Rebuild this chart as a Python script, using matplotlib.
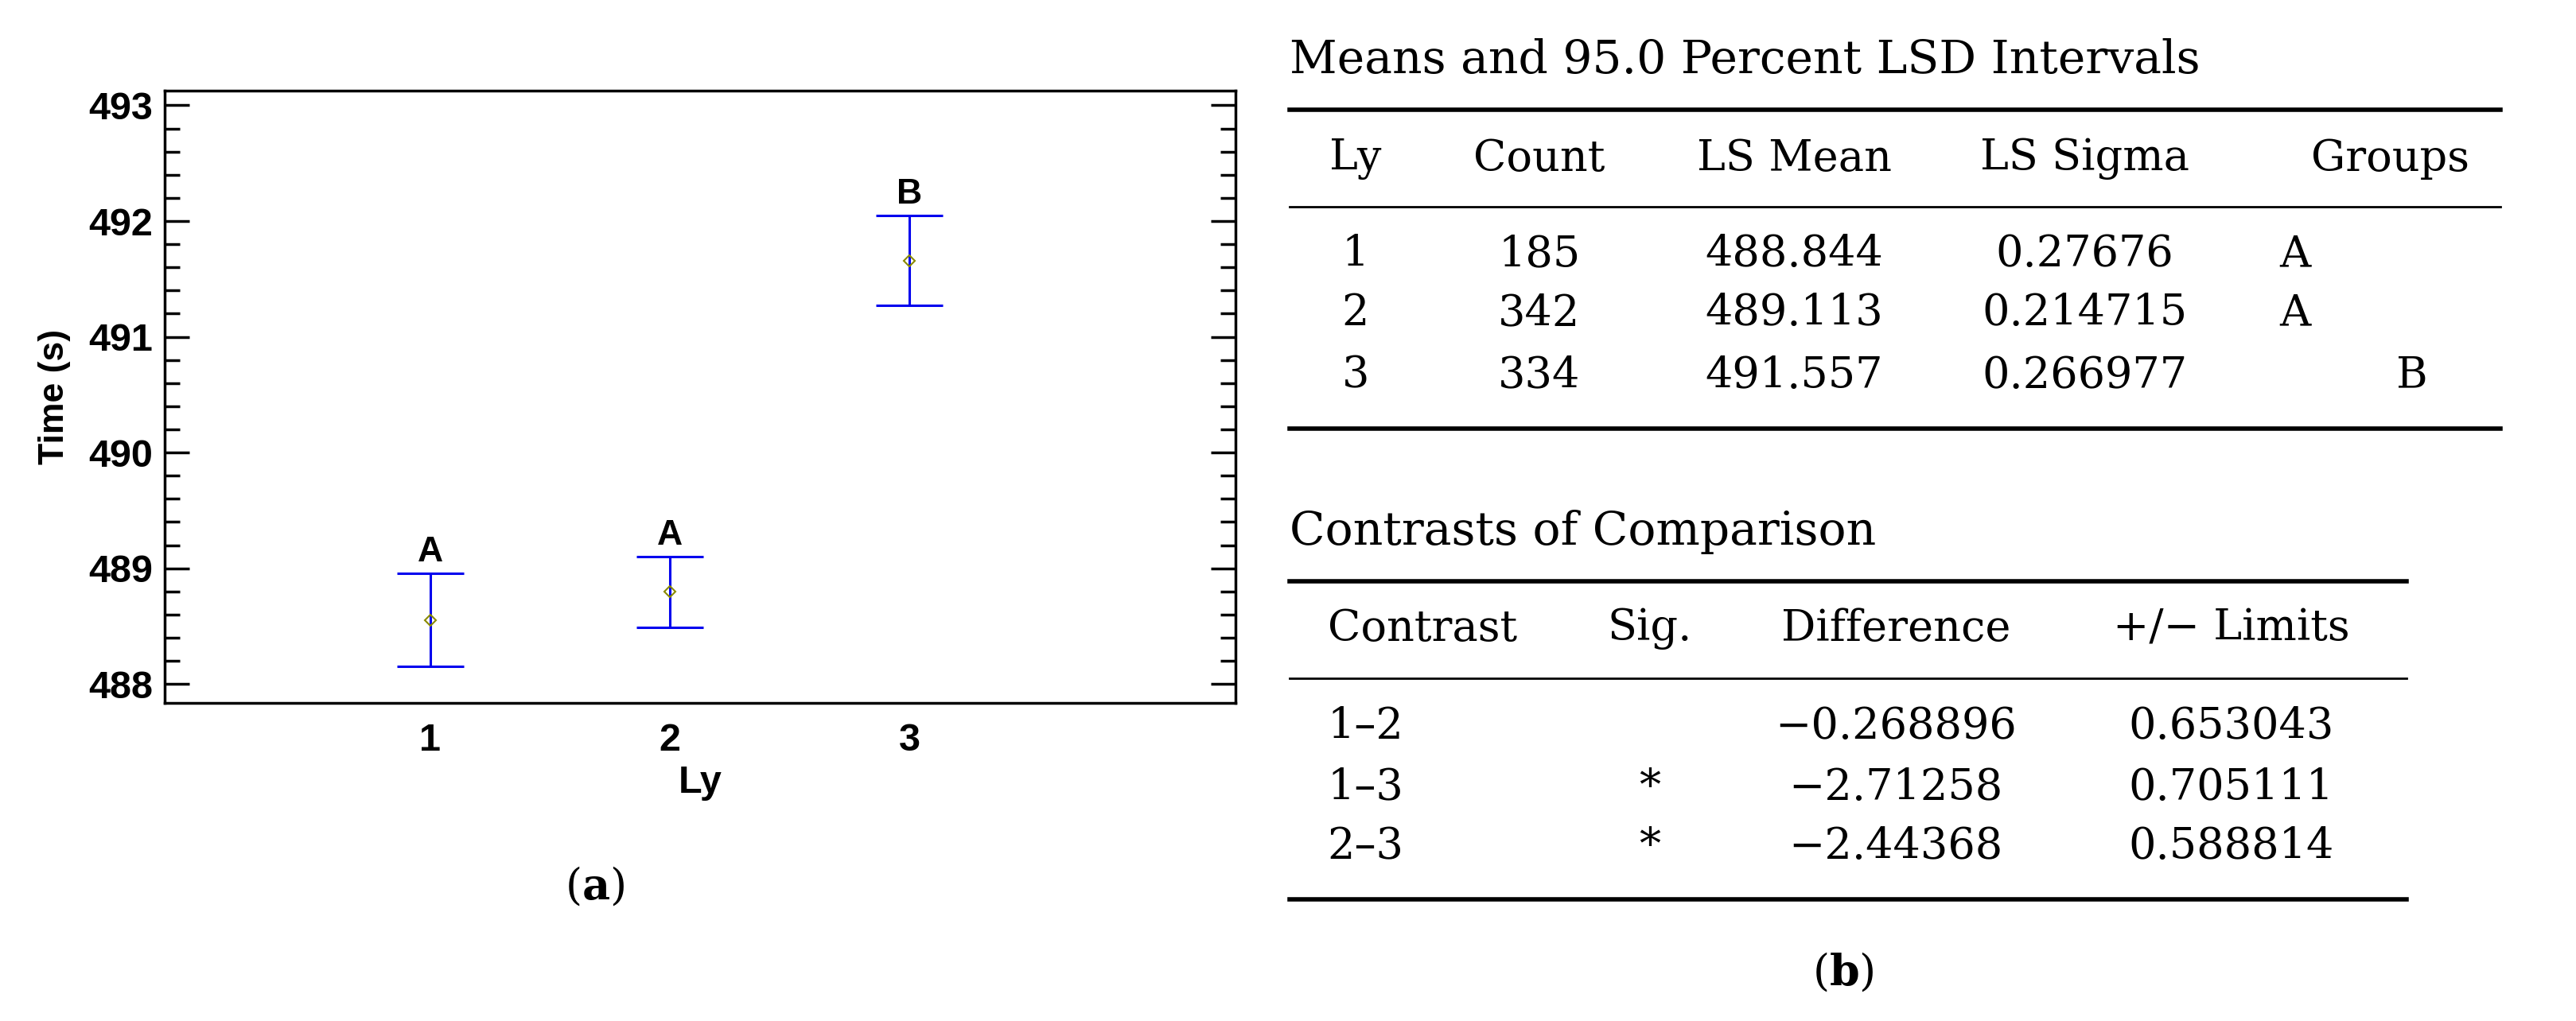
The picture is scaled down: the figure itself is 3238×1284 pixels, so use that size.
import matplotlib
matplotlib.use("Agg")
import matplotlib.pyplot as plt
from matplotlib.ticker import MultipleLocator
from matplotlib.lines import Line2D

plt.rcParams['mathtext.fontset'] = 'dejavuserif'

levels = [1, 2, 3]
means = [488.55, 488.80, 491.66]
lower = [488.15, 488.49, 491.27]
upper = [488.96, 489.10, 492.05]
groups = ["A", "A", "B"]

t1_title = "Means and 95.0 Percent LSD Intervals"
t1_header = ["Ly", "Count", "LS Mean", "LS Sigma", "Groups"]
t1_ly = ["1", "2", "3"]
t1_count = ["185", "342", "334"]
t1_mean = ["488.844", "489.113", "491.557"]
t1_sigma = ["0.27676", "0.214715", "0.266977"]
t1_groups = ["A", "A", "B"]

t2_title = "Contrasts of Comparison"
t2_header = ["Contrast", "Sig.", "Difference", "+/\u2212 Limits"]
t2_contrast = ["1\u20132", "1\u20133", "2\u20133"]
t2_sig = ["", "*", "*"]
t2_diff = ["\u22120.268896", "\u22122.71258", "\u22122.44368"]
t2_limits = ["0.653043", "0.705111", "0.588814"]

W, H = 1568.0, 622.0
def fx(x): return x / W
def fy(y): return 1 - y / H

fig = plt.figure(figsize=(32.38, 12.84), dpi=100)
narrow = ['Liberation Sans Narrow', 'Liberation Sans', 'DejaVu Sans']
ax = fig.add_axes([fx(100), fy(428), fx(752) - fx(100), fy(55) - fy(428)])
yerr = [[m - l for m, l in zip(means, lower)], [u - m for m, u in zip(means, upper)]]
ax.errorbar(levels, means, yerr=yerr, fmt='none', ecolor='#0000ee', elinewidth=2.2,
            capsize=30, capthick=2.2)
ax.plot(levels, means, 'D', ms=7, mfc='none', mec='#8a8a00', mew=1.5)
for x, u, g in zip(levels, upper, groups):
    ax.text(x, u + 0.04, g, ha='center', va='bottom', fontsize=32, fontweight='bold', family=narrow)
ax.set_xlim(-0.11, 4.36)
ax.set_ylim(487.84, 493.13)
ax.set_xticks(levels)
ax.yaxis.set_major_locator(MultipleLocator(1))
ax.yaxis.set_minor_locator(MultipleLocator(0.2))
ax.tick_params(axis='y', which='both', direction='in', left=True, right=True, width=2.5)
ax.tick_params(axis='y', which='major', length=22, pad=10)
ax.tick_params(axis='y', which='minor', length=14)
ax.tick_params(axis='x', length=0, pad=18)
for lab in ax.get_xticklabels() + ax.get_yticklabels():
    lab.set_fontsize(35); lab.set_fontweight('bold'); lab.set_family(narrow)
ax.set_ylabel("Time (s)", fontsize=32, fontweight='bold', family=narrow, labelpad=16)
ax.set_xlabel("Ly", fontsize=35, fontweight='bold', family=narrow, labelpad=6)
for s in ax.spines.values():
    s.set_linewidth(2.5)

serif = ['DejaVu Serif']
fs = 39
fig.text(fx(362), fy(540), "($\\mathbf{a}$)", ha='center', va='center', fontsize=fs, family=serif)
fig.text(fx(1122), fy(592), "($\\mathbf{b}$)", ha='center', va='center', fontsize=fs, family=serif)

def hline(y, x0, x1, lw):
    fig.add_artist(Line2D([fx(x0), fx(x1)], [fy(y), fy(y)], color='black', lw=lw))

# Table 1
fig.text(fx(785), fy(37), t1_title, ha='left', va='center', fontsize=fs + 3, family=serif)
hline(67, 785, 1522, 4); hline(126, 785, 1522, 2); hline(261, 785, 1522, 4)
hx = [825, 937, 1092, 1269, 1455]
for x, h in zip(hx, t1_header):
    fig.text(fx(x), fy(97), h, ha='center', va='center', fontsize=fs, family=serif)
rows_y = [155, 191, 229]
gx = {"A": 1397, "B": 1468}
for i, y in enumerate(rows_y):
    for x, v in zip(hx[:4], [t1_ly[i], t1_count[i], t1_mean[i], t1_sigma[i]]):
        fig.text(fx(x), fy(y), v, ha='center', va='center', fontsize=fs, family=serif)
    fig.text(fx(gx[t1_groups[i]]), fy(y), t1_groups[i], ha='center', va='center', fontsize=fs, family=serif)

# Table 2
fig.text(fx(785), fy(324), t2_title, ha='left', va='center', fontsize=fs + 3, family=serif)
hline(354, 785, 1465, 4); hline(413, 785, 1465, 2); hline(548, 785, 1465, 4)
fig.text(fx(808), fy(383), t2_header[0], ha='left', va='center', fontsize=fs, family=serif)
for x, h in zip([1004, 1154, 1358], t2_header[1:]):
    fig.text(fx(x), fy(383), h, ha='center', va='center', fontsize=fs, family=serif)
for i, y in enumerate([443, 480, 516]):
    fig.text(fx(808), fy(y), t2_contrast[i], ha='left', va='center', fontsize=fs, family=serif)
    for x, v in zip([1004, 1154, 1358], [t2_sig[i], t2_diff[i], t2_limits[i]]):
        fig.text(fx(x), fy(y), v, ha='center', va='center', fontsize=fs, family=serif)

fig.savefig("out.png", dpi=100)
